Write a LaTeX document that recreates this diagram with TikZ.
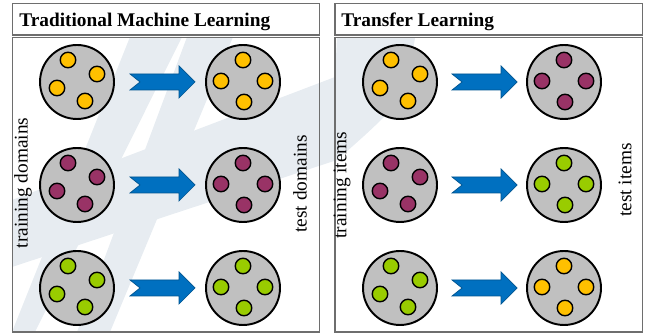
\documentclass[tikz,border=0pt]{standalone}
\usepackage{fontspec}
\setmainfont{Liberation Serif}
\usetikzlibrary{calc}

\definecolor{domgray}{HTML}{C0C0C0}
\definecolor{ylw}{HTML}{FFC000}
\definecolor{prp}{HTML}{993366}
\definecolor{grn}{HTML}{99CC00}
\definecolor{arrblue}{HTML}{0070C0}
\definecolor{wmark}{HTML}{E7ECF1}
\definecolor{framegray}{HTML}{6E6E6E}

% four dots, scattered (training side) or in a diamond (test side)
\newcommand{\scatterdots}[2]{%
  \foreach \dx/\dy [count=\k] in {-9/-22,20/-8,-20/6,8/19}
    \node[smalldot=#2] (#1-\k) at ([shift={(\dx,\dy)}]#1) {};}
\newcommand{\diamonddots}[2]{%
  \foreach \dx/\dy [count=\k] in {0/-22,-22/-1,22/-1,1/20}
    \node[smalldot=#2] (#1-\k) at ([shift={(\dx,\dy)}]#1) {};}
% block arrow between two disks
\newcommand{\blockarr}[2]{%
  \draw[bigarrow] ($(#1)!0.5!(#2)$) ++(-30,-8) -- ++(49,0) -- ++(0,-8)
    -- ++(16,16) -- ++(-16,16) -- ++(0,-8) -- ++(-49,0) -- ++(10,-8) -- cycle;}

\begin{document}
\begin{tikzpicture}[x=0.02cm, y=-0.02cm,
    panelbox/.style={draw=framegray, line width=0.6pt},
    paneltitle/.style={font=\fontsize{11}{13}\selectfont\bfseries, inner sep=0pt},
    sidelabel/.style={font=\fontsize{11}{13}\selectfont, rotate=90, inner sep=0pt},
    domdisk/.style={circle, draw, line width=1.1pt, fill=domgray, minimum size=1.48cm, inner sep=0pt},
    smalldot/.style={circle, draw, line width=0.8pt, fill=#1, minimum size=0.31cm, inner sep=0pt},
    bigarrow/.style={fill=arrblue, draw=arrblue!75!black, line width=0.4pt}]
  \useasboundingbox (0,0) rectangle (648,333);

  % watermark in the background
  \fill[wmark] (130,37) -- (182,37) -- (35,332) -- (12,332) -- cycle;
  \fill[wmark] (187,37) -- (233,37) -- (110,332) -- (77,332) -- cycle;
  \fill[wmark] (12,200) -- (335,77) -- (337,38) -- (415,38)
    .. controls (405,100) .. (337,160) -- (12,267) -- cycle;

  % panels
  \draw[panelbox, fill=white] (12.5,3.5) rectangle (319.5,35);
  \draw[panelbox] (12.5,37.5) rectangle (319.5,332);
  \draw[panelbox, fill=white] (335,3.5) rectangle (642.5,35);
  \draw[panelbox] (335,37.5) rectangle (642.5,332);

  \node[paneltitle, anchor=base west] (titA) at (19,26.5) {Traditional Machine Learning};
  \node[paneltitle, anchor=base west] (titB) at (341,26.5) {Transfer Learning};

  % traditional machine learning
  \node[domdisk] (trA1) at (77,82) {};
  \node[domdisk] (teA1) at (243,82) {};
  \node[domdisk] (trA2) at (77,185) {};
  \node[domdisk] (teA2) at (243,185) {};
  \node[domdisk] (trA3) at (77,288) {};
  \node[domdisk] (teA3) at (243,288) {};

  \scatterdots{trA1}{ylw}  \diamonddots{teA1}{ylw}
  \scatterdots{trA2}{prp}  \diamonddots{teA2}{prp}
  \scatterdots{trA3}{grn}  \diamonddots{teA3}{grn}

  \blockarr{trA1}{teA1}
  \blockarr{trA2}{teA2}
  \blockarr{trA3}{teA3}

  \node[sidelabel] (lblA1) at (23,183) {training domains};
  \node[sidelabel] (lblA2) at (300,184) {test domains};

  % transfer learning
  \node[domdisk] (trB1) at (400,82) {};
  \node[domdisk] (teB1) at (564,82) {};
  \node[domdisk] (trB2) at (400,185) {};
  \node[domdisk] (teB2) at (564,185) {};
  \node[domdisk] (trB3) at (400,288) {};
  \node[domdisk] (teB3) at (564,288) {};

  \scatterdots{trB1}{ylw}  \diamonddots{teB1}{prp}
  \scatterdots{trB2}{prp}  \diamonddots{teB2}{grn}
  \scatterdots{trB3}{grn}  \diamonddots{teB3}{ylw}

  \blockarr{trB1}{teB1}
  \blockarr{trB2}{teB2}
  \blockarr{trB3}{teB3}

  \node[sidelabel] (lblB1) at (342,185) {training items};
  \node[sidelabel] (lblB2) at (625,180) {test items};
\end{tikzpicture}
\end{document}
